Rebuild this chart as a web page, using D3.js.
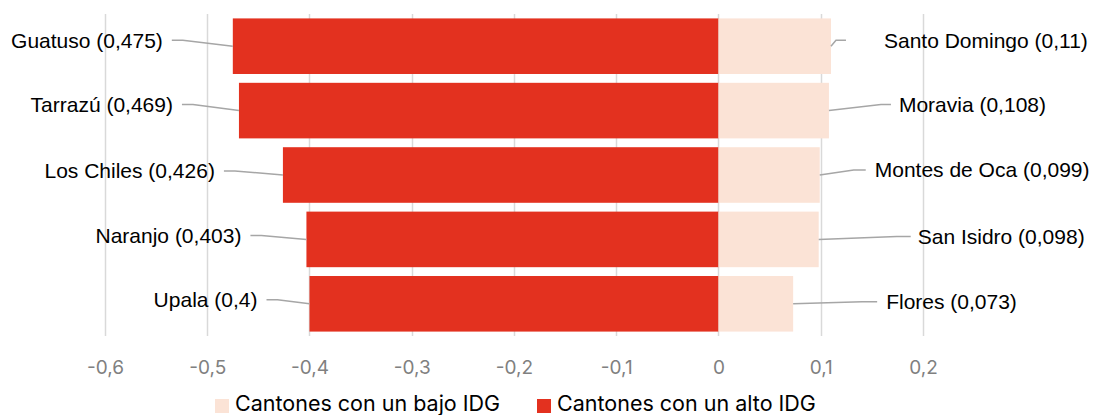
<!DOCTYPE html>
<html>
<head>
<meta charset="utf-8">
<script src="https://cdn.jsdelivr.net/npm/d3@7"></script>
<style>
  html, body { margin: 0; padding: 0; background: #fff; }
  svg { display: block; }
</style>
</head>
<body>
<svg id="chart" width="1096" height="415"></svg>
<script>
// ---- data ----
const highNames = ["Guatuso", "Tarrazú", "Los Chiles", "Naranjo", "Upala"];
const highValues = [0.475, 0.469, 0.426, 0.403, 0.4];
const lowNames = ["Santo Domingo", "Moravia", "Montes de Oca", "San Isidro", "Flores"];
const lowValues = [0.11, 0.108, 0.099, 0.098, 0.073];
const tickValues = [-0.6, -0.5, -0.4, -0.3, -0.2, -0.1, 0, 0.1, 0.2];
const seriesNames = ["Cantones con un bajo IDG", "Cantones con un alto IDG"];

// ---- layout (label placement, px) ----
const leftLabelGap = [70, 66, 68, 65, 52];     // bar end -> label end
const leftLabelDy = [-6, -6, -4, -4, -4];
const rightKnee = [5, 52, 34, 78, 69];          // bar end -> start of horizontal leader
const rightKneeLen = [10, 10, 12, 14, 15];
const rightLabelGap = [38, 8, 9, 7, 9];
const rightLabelDy = [-6, -6, -5, -3, -2];

const colors = { low: "#FBE3D6", high: "#E3311F", grid: "#D9D9D9", leader: "#A6A6A6" };
const fmt = v => String(v).replace(".", ",");

const svg = d3.select("#chart");
const x = d3.scaleLinear().domain([-0.6, 0.2]).range([105, 923]);
const y = d3.scaleBand().domain(d3.range(highNames.length)).range([14, 336])
  .paddingInner(0.137).paddingOuter(0.0685);

// gridlines
svg.append("g").selectAll("line").data(tickValues).join("line")
  .attr("x1", d => Math.round(x(d)) + 0.5).attr("x2", d => Math.round(x(d)) + 0.5)
  .attr("y1", 14).attr("y2", 336)
  .attr("stroke", colors.grid).attr("stroke-width", 1.5);

// tick labels via axis
const axis = svg.append("g").attr("transform", "translate(0,356)")
  .call(d3.axisBottom(x).tickValues(tickValues).tickSize(0).tickFormat(d => fmt(+d.toFixed(1))));
axis.select(".domain").remove();
axis.selectAll("text").attr("fill", "#808080").attr("font-family", "Inter, 'Noto Sans', sans-serif")
  .attr("font-size", 19).attr("dy", "0.71em").attr("y", 4);

// bars
svg.append("g").selectAll("rect").data(highValues).join("rect")
  .attr("x", d => x(-d)).attr("width", d => x(0) - x(-d))
  .attr("y", (d, i) => y(i)).attr("height", y.bandwidth())
  .attr("fill", colors.high);
svg.append("g").selectAll("rect").data(lowValues).join("rect")
  .attr("x", x(0)).attr("width", d => x(d) - x(0))
  .attr("y", (d, i) => y(i)).attr("height", y.bandwidth())
  .attr("fill", colors.low);

const labelFont = "'Liberation Sans', Arial, sans-serif";
const labelSize = 21;
// left labels
highValues.forEach((v, i) => {
  const bx = x(-v), cy = y(i) + y.bandwidth() / 2;
  const lx = bx - leftLabelGap[i], ly = cy + leftLabelDy[i];
  svg.append("path")
    .attr("d", `M${lx + 9},${ly} L${lx + 20},${ly} L${bx},${cy}`)
    .attr("fill", "none").attr("stroke", colors.leader).attr("stroke-width", 1.5);
  svg.append("text").attr("x", lx).attr("y", ly).attr("dy", "0.35em")
    .attr("text-anchor", "end").attr("font-family", labelFont).attr("font-size", labelSize)
    .attr("fill", "#000").text(`${highNames[i]} (${fmt(v)})`);
});
// right labels
lowValues.forEach((v, i) => {
  const bx = x(v), cy = y(i) + y.bandwidth() / 2;
  const ly = cy + rightLabelDy[i];
  const k1 = bx + rightKnee[i], k2 = k1 + rightKneeLen[i];
  svg.append("path")
    .attr("d", `M${bx},${cy} L${k1},${ly} L${k2},${ly}`)
    .attr("fill", "none").attr("stroke", colors.leader).attr("stroke-width", 1.5);
  svg.append("text").attr("x", k2 + rightLabelGap[i]).attr("y", ly).attr("dy", "0.35em")
    .attr("text-anchor", "start").attr("font-family", labelFont).attr("font-size", labelSize)
    .attr("fill", "#000").text(`${lowNames[i]} (${fmt(v)})`);
});

// legend
const legendItems = [
  { name: seriesNames[0], color: colors.low, x: 215 },
  { name: seriesNames[1], color: colors.high, x: 537 }
];
const lg = svg.append("g").selectAll("g").data(legendItems).join("g")
  .attr("transform", d => `translate(${d.x},0)`);
lg.append("rect").attr("x", 0).attr("y", 399).attr("width", 14).attr("height", 14).attr("fill", d => d.color);
lg.append("text").attr("x", 20).attr("y", 411).attr("font-family", "Inter, 'Noto Sans', sans-serif")
  .attr("font-size", 21.5).attr("fill", "#000").text(d => d.name);
</script>
</body>
</html>
